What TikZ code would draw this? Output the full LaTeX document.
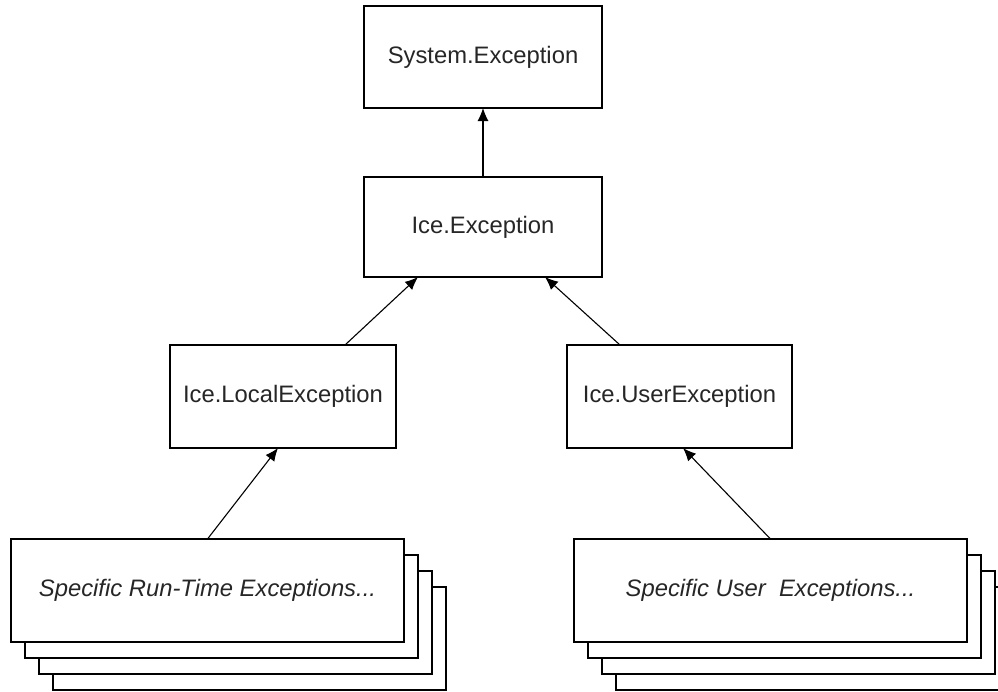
\documentclass[tikz,border=0pt]{standalone}
\usepackage{fontspec}
\setmainfont{Liberation Sans}
\usetikzlibrary{positioning}
\usetikzlibrary{shadows}
\usetikzlibrary{arrows.meta}
\tikzset{classbox/.style={draw,line width=1.6pt,fill=white,inner sep=0pt,outer sep=0pt,
                          minimum width=238pt,minimum height=102pt,text=black!85,
                          font=\fontsize{23.8}{28}\selectfont},
         stackbox/.style={classbox,minimum width=393pt,minimum height=103pt,
                          font=\fontsize{23.8}{28}\selectfont\itshape,
                          copy shadow={shadow xshift=42pt,shadow yshift=-48pt},
                          copy shadow={shadow xshift=28pt,shadow yshift=-32pt},
                          copy shadow={shadow xshift=14pt,shadow yshift=-16pt}},
         inherits/.style={-{Latex[length=13pt,width=11pt]},line width=1.1pt},
         }
\begin{document}
\begin{tikzpicture}
\useasboundingbox (0pt,0pt) rectangle (998pt,-691pt);
\node[classbox] (sys) at (483pt,-57pt) {System.Exception};
\node[classbox,minimum height=100pt,below=69pt of sys] (ice) {Ice.Exception};
\node[classbox,minimum width=226pt,minimum height=103pt,below=68pt of ice,xshift=-200pt] (local) {Ice.LocalException};
\node[classbox,minimum width=225pt,minimum height=103pt,below=68pt of ice,xshift=196.5pt] (user) {Ice.UserException};
% stacked boxes
\node[stackbox,below=91pt of local,xshift=-75.5pt] (runtime) {Specific Run-Time Exceptions...};
\node[stackbox,below=91pt of user,xshift=91pt] (userspec) {Specific User\ \ Exceptions...};
\draw[inherits] (ice) -- (sys);
\draw[inherits] ([xshift=62pt]local.north) -- ([xshift=-65pt]ice.south);
\draw[inherits] ([xshift=-59.5pt]user.north) -- ([xshift=62pt]ice.south);
\draw[inherits] (runtime.north) -- ([xshift=-5pt]local.south);
\draw[inherits] (userspec.north) -- ([xshift=3.5pt]user.south);
\end{tikzpicture}
\end{document}
